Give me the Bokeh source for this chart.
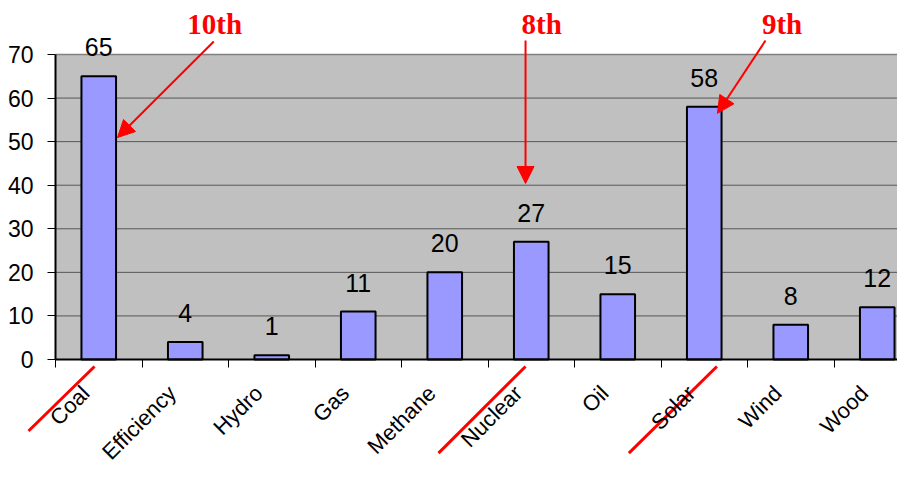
import math
from bokeh.plotting import figure
from bokeh.models import Range1d, FixedTicker, ColumnDataSource, Arrow, NormalHead
from bokeh.core.properties import value
from bokeh.embed import file_html
from bokeh.resources import INLINE

# ---- data ----
categories = ["Coal", "Efficiency", "Hydro", "Gas", "Methane",
              "Nuclear", "Oil", "Solar", "Wind", "Wood"]
counts = [65, 4, 1, 11, 20, 27, 15, 58, 8, 12]
y_ticks = [0, 10, 20, 30, 40, 50, 60, 70]
y_top = 70

# annotations (rank labels pointing at bars)
ann_labels = ["10th", "8th", "9th"]
ann_cats = ["Coal", "Nuclear", "Solar"]

# ---- layout / style ----
PX_PER_CAT = 86.5
PX_PER_UNIT = 305 / 70.0
LABEL_SHIFT = 0.15                     # category labels sit left of the bar centre
ann_text_dx = [1.34, 0.12, 0.90]      # relative to category centre
ann_text_y = [77.0, 77.0, 77.0]
ann_start_dx = [1.33, -0.066, 0.708]
ann_start_y = [73.0, 73.2, 73.2]
ann_end_dx = [0.217, -0.066, 0.153]
ann_end_y = [50.95, 40.4, 56.5]
strike_dx0 = [-0.812, -1.072, -0.871]
strike_y0 = [-16.4, -21.5, -21.5]
strike_dx1 = [-0.049, -0.066, 0.146]
strike_y1 = [-1.6, -1.6, -1.6]

W, H = 897, 465
xs = list(range(len(categories)))
idx = {c: i for i, c in enumerate(categories)}

x_start = (0 - 55) / PX_PER_CAT - 0.5
x_end = (W - 55) / PX_PER_CAT - 0.5
y_start = (359 - H) / PX_PER_UNIT
y_end = (359 - 0) / PX_PER_UNIT

p = figure(width=W, height=H,
           x_range=Range1d(x_start, x_end), y_range=Range1d(y_start, y_end),
           output_backend="svg", toolbar_location=None, min_border=0,
           outline_line_color=None, background_fill_color="white",
           border_fill_color="white")
p.grid.visible = False

# plot area background
p.quad(left=[-0.5], right=[len(categories) - 0.5], bottom=[0], top=[y_top],
       fill_color="#C0C0C0", line_color=None)
# gridlines
gy = [t for t in y_ticks if 0 < t < y_top]
p.segment(x0=[-0.5] * len(gy), x1=[len(categories) - 0.5] * len(gy), y0=gy, y1=gy,
          line_color="#555555", line_width=1)
p.segment(x0=[-0.5], x1=[len(categories) - 0.5], y0=[y_top], y1=[y_top],
          line_color="#808080", line_width=1.5)

# bars
src = ColumnDataSource(dict(x=xs, top=counts, lbl=[str(v) for v in counts]))
p.vbar(x="x", top="top", width=0.4, bottom=0, source=src,
       fill_color="#9999FF", line_color="black", line_width=2)
p.text(x="x", y="top", text="lbl", source=src, text_align="center",
       text_baseline="middle", y_offset=-29,
       text_font=value("Liberation Sans"), text_font_size="25px", text_color="black")

# axes
p.yaxis.fixed_location = -0.5
p.yaxis.bounds = (0, y_top)
p.yaxis.ticker = FixedTicker(ticks=y_ticks, minor_ticks=[])
p.yaxis.axis_line_color = "black"
p.yaxis.axis_line_width = 2
p.yaxis.major_tick_out = 8
p.yaxis.major_tick_in = 0
p.yaxis.major_tick_line_color = "black"
p.yaxis.major_tick_line_width = 1
p.yaxis.minor_tick_line_color = None
p.yaxis.major_label_standoff = 14
p.yaxis.major_label_text_font = "Liberation Sans"
p.yaxis.major_label_text_font_size = "23px"
p.yaxis.major_label_text_color = "black"

label_pos = [round(i - LABEL_SHIFT, 3) for i in xs]
p.xaxis.fixed_location = 0
p.xaxis.bounds = (-0.5, len(categories) - 0.5)
p.xaxis.ticker = FixedTicker(ticks=label_pos,
                             minor_ticks=[i - 0.5 for i in range(len(categories) + 1)])
p.xaxis.major_label_overrides = {t: c for t, c in zip(label_pos, categories)}
p.xaxis.axis_line_color = "black"
p.xaxis.axis_line_width = 2
p.xaxis.major_tick_line_color = None
p.xaxis.major_tick_out = 0
p.xaxis.major_tick_in = 0
p.xaxis.minor_tick_out = 8
p.xaxis.minor_tick_in = 0
p.xaxis.minor_tick_line_color = "black"
p.xaxis.minor_tick_line_width = 1
p.xaxis.major_label_orientation = math.pi / 4
p.xaxis.major_label_standoff = 22
p.xaxis.major_label_text_font = "Liberation Sans"
p.xaxis.major_label_text_font_size = "22px"
p.xaxis.major_label_text_color = "black"

# red annotations
cx = [idx[c] for c in ann_cats]
p.text(x=[c + d for c, d in zip(cx, ann_text_dx)], y=ann_text_y, text=ann_labels,
       text_align="center", text_baseline="middle",
       text_font=value("Liberation Serif"), text_font_style="bold",
       text_font_size="29px", text_color="#FF0000")
asrc = ColumnDataSource(dict(
    x0=[c + d for c, d in zip(cx, ann_start_dx)], y0=ann_start_y,
    x1=[c + d for c, d in zip(cx, ann_end_dx)], y1=ann_end_y))
p.add_layout(Arrow(end=NormalHead(size=17, fill_color="#FF0000", line_color="#FF0000"),
                   x_start="x0", y_start="y0", x_end="x1", y_end="y1",
                   line_color="#FF0000", line_width=2, source=asrc))
p.segment(x0=[c + d for c, d in zip(cx, strike_dx0)], y0=strike_y0,
          x1=[c + d for c, d in zip(cx, strike_dx1)], y1=strike_y1,
          line_color="#FF0000", line_width=3)

open("out.html", "w").write(file_html(p, INLINE))
